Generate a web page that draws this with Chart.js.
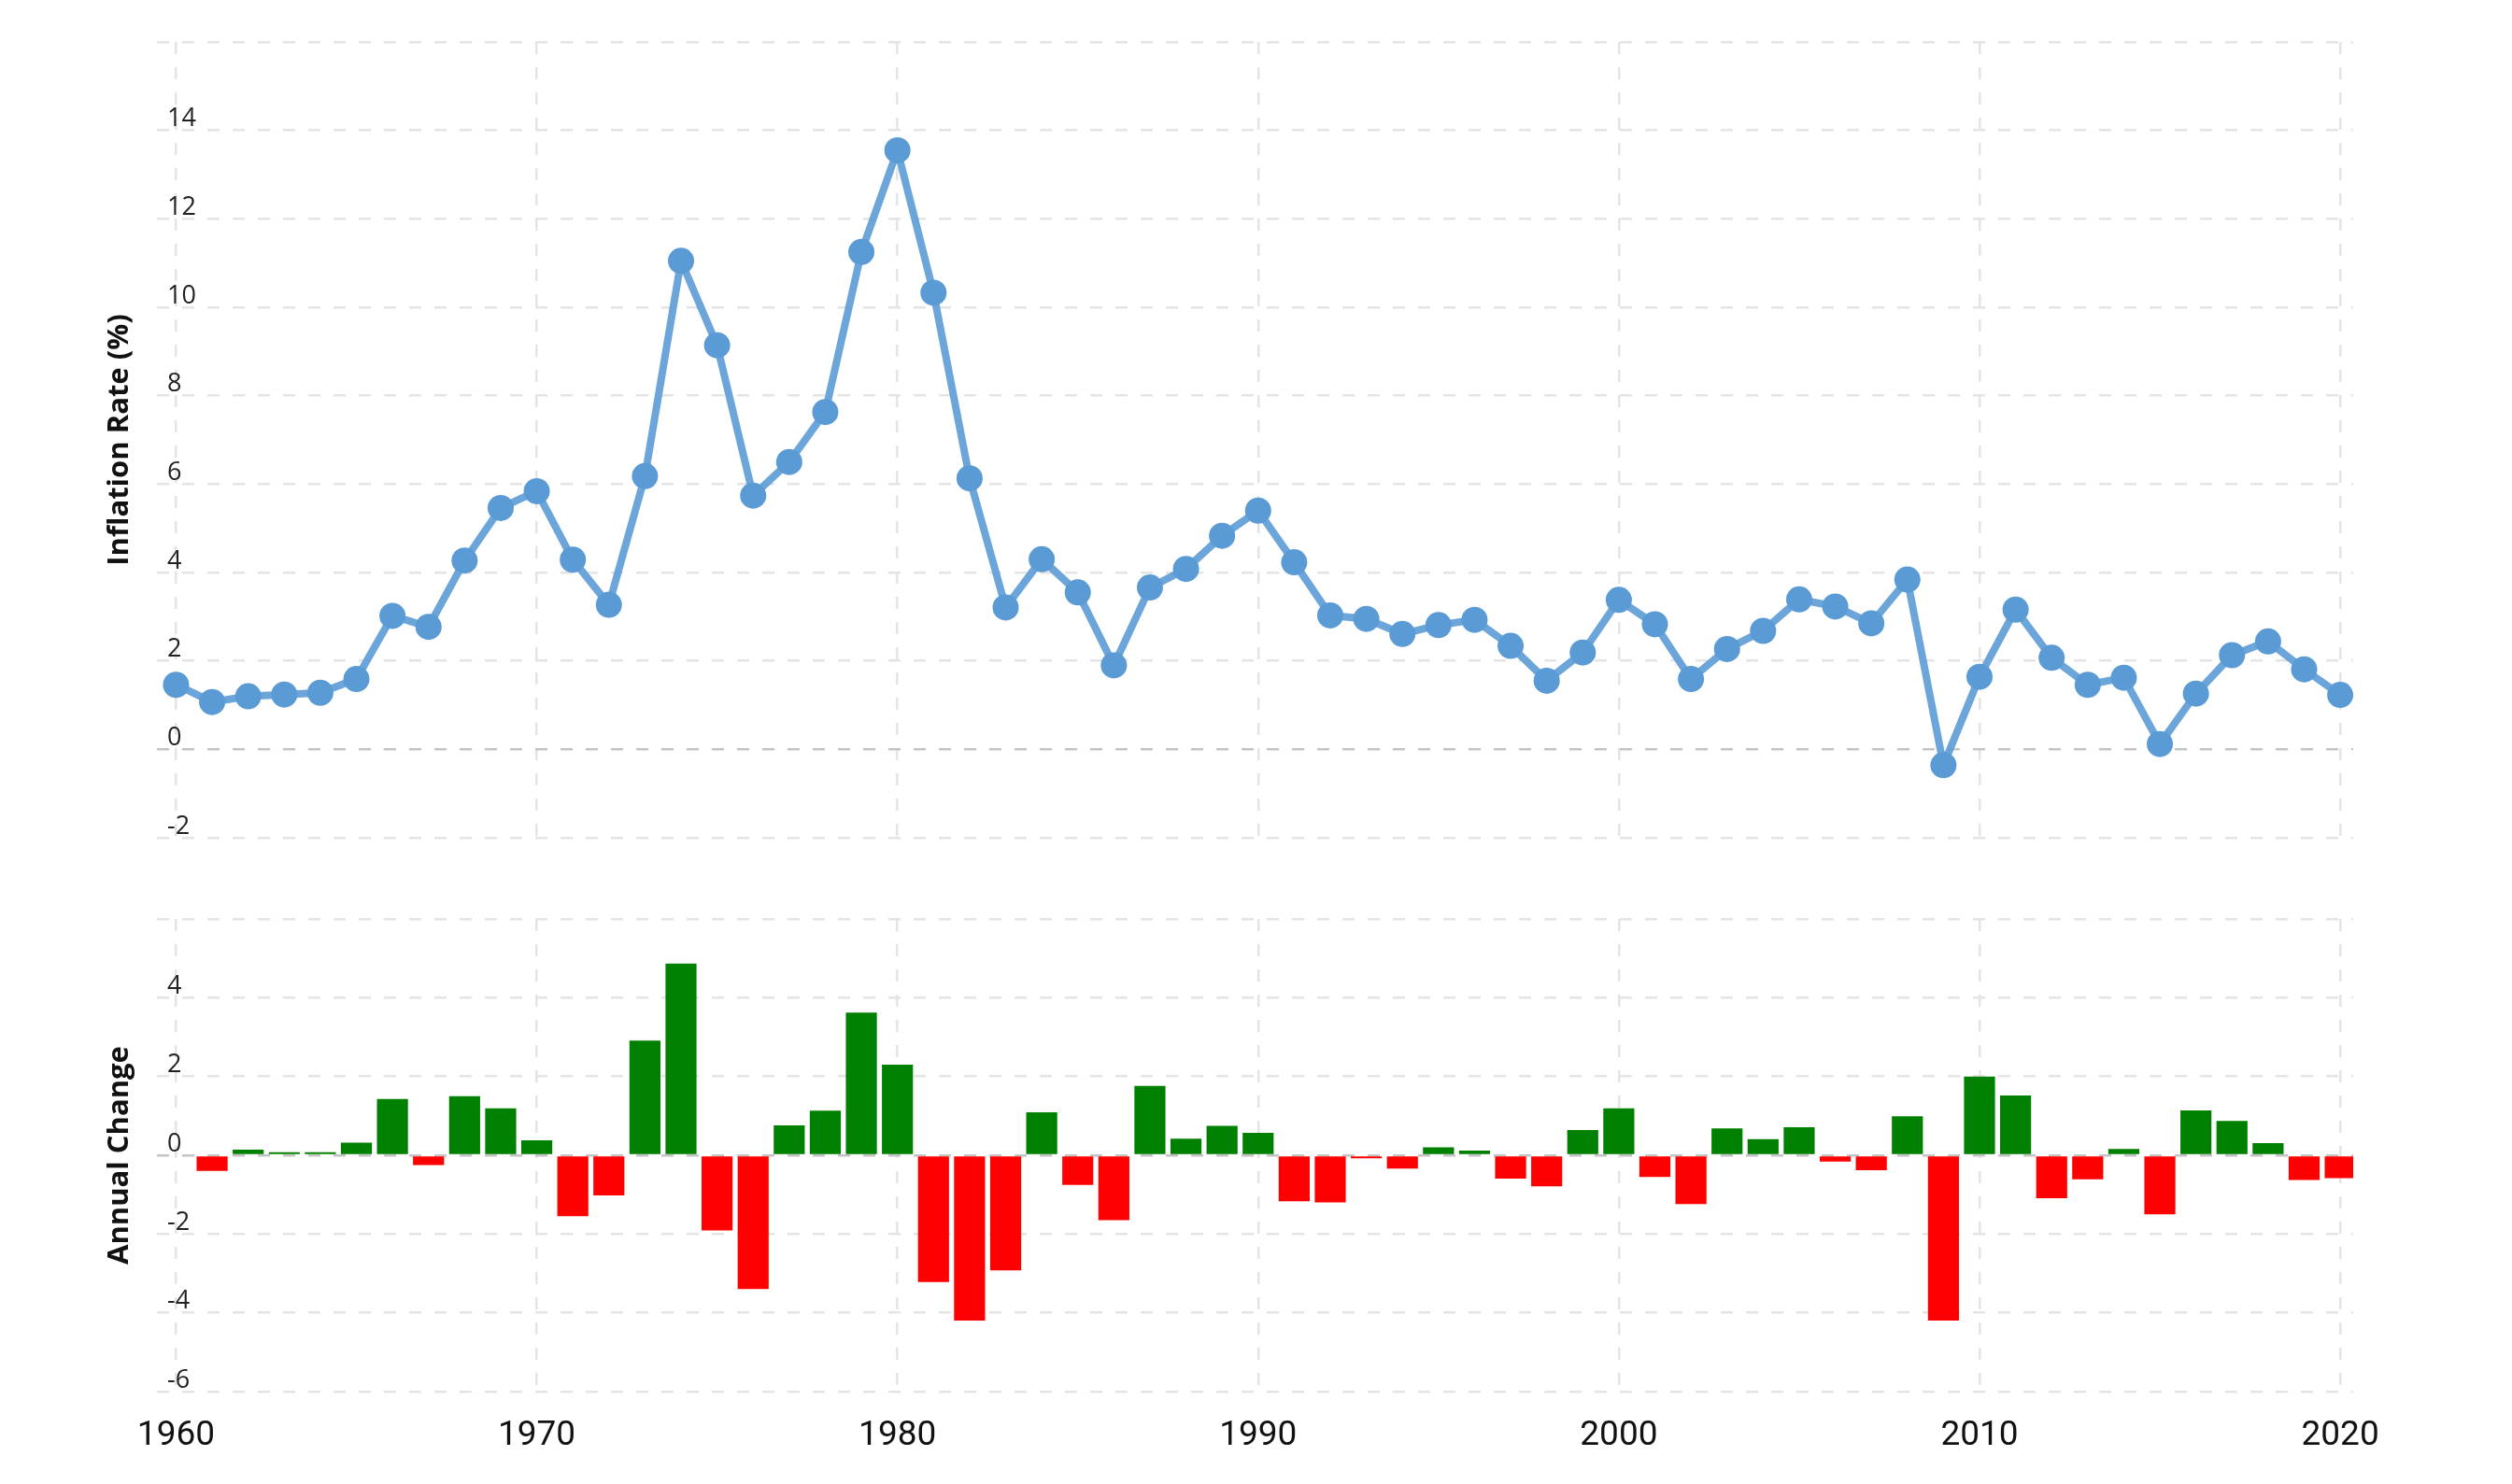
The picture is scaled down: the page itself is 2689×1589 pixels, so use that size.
<!DOCTYPE html>
<html>
<head>
<meta charset="utf-8">
<script src="https://cdn.jsdelivr.net/npm/chart.js@4.4.1/dist/chart.umd.min.js"></script>
<style>
  html, body { margin: 0; padding: 0; background: #fff; }
  #wrap { position: relative; width: 2689px; height: 1589px; }
  canvas { position: absolute; left: 0; }
  #rate { top: 0; }
  #change { top: 940px; }
</style>
</head>
<body>
<div id="wrap">
  <canvas id="rate" width="2689" height="940"></canvas>
  <canvas id="change" width="2689" height="649"></canvas>
</div>
<script>
// years shown on both panels
var years = [1960, 1961, 1962, 1963, 1964, 1965, 1966, 1967, 1968, 1969,
             1970, 1971, 1972, 1973, 1974, 1975, 1976, 1977, 1978, 1979,
             1980, 1981, 1982, 1983, 1984, 1985, 1986, 1987, 1988, 1989,
             1990, 1991, 1992, 1993, 1994, 1995, 1996, 1997, 1998, 1999,
             2000, 2001, 2002, 2003, 2004, 2005, 2006, 2007, 2008, 2009,
             2010, 2011, 2012, 2013, 2014, 2015, 2016, 2017, 2018, 2019,
             2020];

// inflation rate (%)
var inflation = [1.46, 1.07, 1.20, 1.24, 1.28, 1.59, 3.02, 2.77, 4.27, 5.46,
                 5.84, 4.29, 3.27, 6.18, 11.05, 9.14, 5.74, 6.50, 7.63, 11.25,
                 13.55, 10.33, 6.13, 3.21, 4.30, 3.55, 1.90, 3.66, 4.08, 4.83,
                 5.40, 4.23, 3.03, 2.95, 2.61, 2.81, 2.93, 2.34, 1.55, 2.19,
                 3.38, 2.83, 1.59, 2.27, 2.68, 3.39, 3.23, 2.85, 3.84, -0.36,
                 1.64, 3.16, 2.07, 1.46, 1.62, 0.12, 1.26, 2.13, 2.44, 1.81,
                 1.23];

// annual change (percentage points), no bar for 1960
var annualChange = [null, -0.40, 0.14, 0.08, 0.08, 0.32, 1.43, -0.25, 1.50, 1.19,
                    0.38, -1.55, -1.02, 2.91, 4.87, -1.91, -3.40, 0.76, 1.13, 3.62,
                    2.30, -3.22, -4.20, -2.92, 1.09, -0.75, -1.65, 1.76, 0.42, 0.75,
                    0.57, -1.17, -1.20, -0.08, -0.34, 0.20, 0.12, -0.59, -0.79, 0.64,
                    1.19, -0.55, -1.24, 0.68, 0.41, 0.71, -0.16, -0.38, 0.99, -4.20,
                    2.00, 1.52, -1.09, -0.61, 0.16, -1.50, 1.14, 0.87, 0.31, -0.63,
                    -0.58];

var decadeTicks = [1960, 1970, 1980, 1990, 2000, 2010, 2020];

Chart.defaults.font.family = "'Open Sans', sans-serif";
Chart.defaults.color = '#222';
Chart.defaults.animation = false;

var gridDash = [13, 14];
function gridColor(ctx) {
    return ctx.tick && ctx.tick.value === 0 ? '#c4c4c4' : '#e4e4e4';
}

function xScale(showLabels, height) {
    return {
        type: 'linear',
        min: 1959.47,
        max: 2020.36,
        offset: false,
        afterBuildTicks: function(scale) {
            scale.ticks = decadeTicks.map(function(v) { return { value: v }; });
        },
        afterFit: function(scale) { scale.height = height; },
        grid: { color: '#e4e4e4', lineWidth: 2.5, drawTicks: false, offset: false },
        border: { display: false, dash: gridDash },
        ticks: {
            display: showLabels,
            padding: 26,
            color: '#111',
            font: { family: 'Roboto', size: 37 },
            maxRotation: 0,
            autoSkip: false,
            callback: function(v) { return String(v); }
        }
    };
}

function yScale(min, max, title) {
    return {
        min: min,
        max: max,
        afterFit: function(scale) { scale.width = 168; },
        grid: { color: gridColor, lineWidth: 2.5, drawTicks: false },
        border: { display: false, dash: gridDash },
        ticks: {
            stepSize: 2,
            mirror: true,
            padding: 11,
            labelOffset: -12,
            color: '#222',
            font: { size: 27 },
            callback: function(v) { return v === max ? '' : v; }
        },
        title: {
            display: true,
            text: title,
            color: '#111',
            font: { size: 31, weight: 'bold' },
            padding: { top: 110, bottom: 0 }
        }
    };
}

new Chart(document.getElementById('rate'), {
    type: 'line',
    data: {
        datasets: [{
            data: years.map(function(y, i) { return { x: y, y: inflation[i] }; }),
            borderColor: 'rgba(91, 155, 213, 0.9)',
            borderWidth: 8,
            pointRadius: 14,
            pointBorderWidth: 0,
            pointBackgroundColor: '#5b9bd5',
            tension: 0,
            fill: false
        }]
    },
    options: {
        responsive: false,
        devicePixelRatio: 1,
        layout: { padding: { top: 45, right: 170, bottom: 43, left: 0 } },
        plugins: { legend: { display: false }, tooltip: { enabled: false } },
        scales: {
            x: xScale(false, 0),
            y: yScale(-2, 16, 'Inflation Rate (%)')
        }
    }
});

new Chart(document.getElementById('change'), {
    type: 'bar',
    data: {
        datasets: [{
            data: years.map(function(y, i) { return { x: y, y: annualChange[i] }; }),
            backgroundColor: function(ctx) {
                var v = ctx.raw ? ctx.raw.y : 0;
                return v < 0 ? '#ff0000' : '#008000';
            },
            borderWidth: 0,
            categoryPercentage: 1,
            barPercentage: 0.86
        }]
    },
    options: {
        responsive: false,
        devicePixelRatio: 1,
        layout: { padding: { top: 44, right: 170, bottom: 0, left: 0 } },
        plugins: { legend: { display: false }, tooltip: { enabled: false } },
        scales: {
            x: xScale(true, 99),
            y: yScale(-6, 6, 'Annual Change')
        }
    }
});
</script>
</body>
</html>
